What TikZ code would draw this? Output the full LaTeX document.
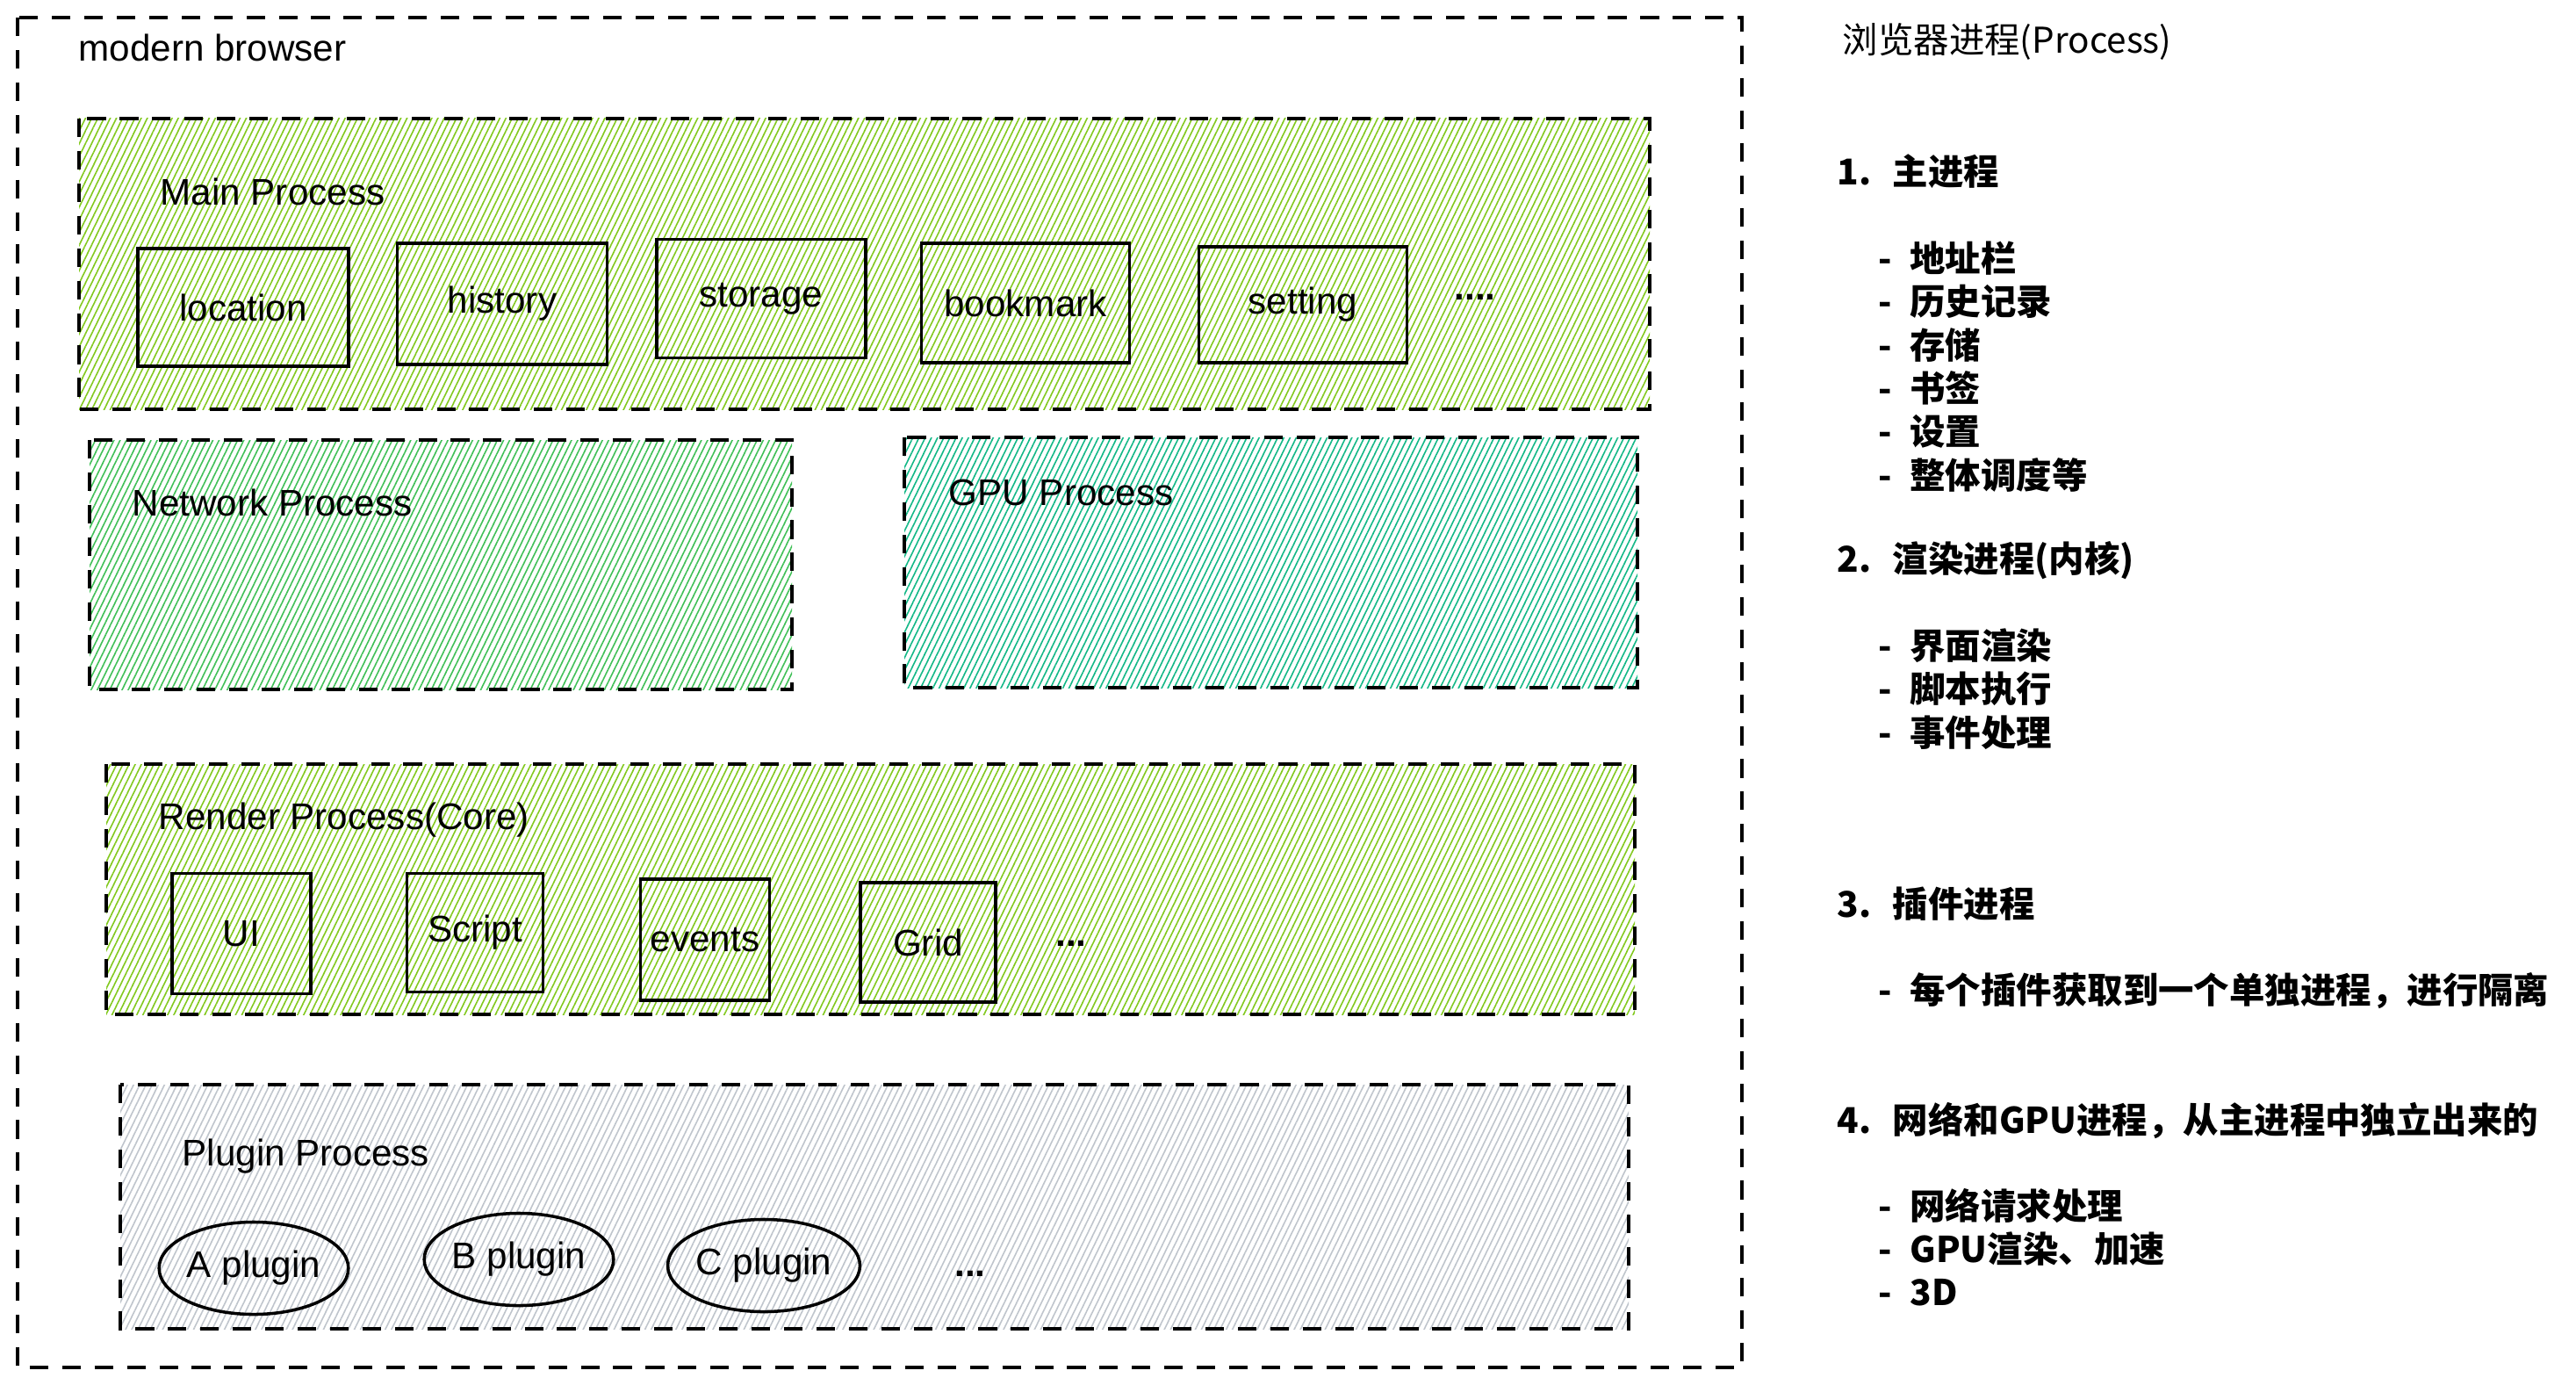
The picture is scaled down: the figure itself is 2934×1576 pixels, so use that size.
\documentclass[tikz,border=0pt]{standalone}
\usepackage{fontspec}
\setmainfont{Liberation Sans}
\newfontfamily\cjk{Noto Sans CJK SC}
\usetikzlibrary{patterns.meta,shapes.geometric}
\definecolor{limegreen}{HTML}{82C91E}
\definecolor{netgreen}{HTML}{40C057}
\definecolor{gputeal}{HTML}{12B886}
\definecolor{plugingray}{HTML}{BFC5CC}

\begin{document}
\begin{tikzpicture}[x=0.01cm,y=-0.01cm,
  font=\fontsize{12}{14}\selectfont,
  frame/.style={line width=1.1pt,dash pattern=on 6pt off 4.5pt},
  hatch/.style={pattern={Lines[angle=64,distance=1.8pt,line width=0.45pt]},pattern color=#1},
  part/.style={draw,line width=1pt,inner sep=0pt},
  plug/.style={draw,ellipse,line width=1pt,inner sep=0pt,minimum width=2.1cm,minimum height=1.05cm},
  lbl/.style={anchor=base west,inner sep=0pt},
  note/.style={anchor=west,inner sep=0pt,font=\cjk\bfseries\fontsize{11.5}{14}\selectfont}]
  \path[use as bounding box,fill=white] (0,0) rectangle (2934,1576);

  % browser frame
  \draw[frame] (20,20) rectangle (1984,1557);
  \node[lbl] (browser) at (89,70) {modern browser};

  % main process
  \draw[frame,hatch=limegreen] (90,135) rectangle (1879,466);
  \node[lbl] (mainlbl) at (182,233) {Main Process};
  \node[part,minimum width=2.40cm,minimum height=1.34cm] (location) at (277,350) {location};
  \node[part,minimum width=2.39cm,minimum height=1.38cm] (history) at (572,346) {history};
  \node[part,minimum width=2.38cm,minimum height=1.35cm] (storage) at (867,340) {storage};
  \node[part,minimum width=2.37cm,minimum height=1.36cm] (bookmark) at (1168,345) {bookmark};
  \node[part,minimum width=2.37cm,minimum height=1.32cm] (setting) at (1484,347) {setting};
  \node (maindots) at (1680,338) {\textbf{....}};

  % network and gpu
  \draw[frame,hatch=netgreen] (102,501) rectangle (902,785);
  \node[lbl] (netlbl) at (150,587) {Network Process};
  \draw[frame,hatch=gputeal] (1030,498) rectangle (1865,783);
  \node[lbl] (gpulbl) at (1080,575) {GPU Process};

  % render process
  \draw[frame,hatch=limegreen] (121,870) rectangle (1862,1155);
  \node[lbl] (renderlbl) at (180,944) {Render Process(Core)};
  \node[part,minimum width=1.58cm,minimum height=1.37cm] (ui) at (275,1063) {UI};
  \node[part,minimum width=1.55cm,minimum height=1.35cm] (script) at (541,1062) {Script};
  \node[part,minimum width=1.47cm,minimum height=1.38cm] (events) at (803,1070) {events};
  \node[part,minimum width=1.54cm,minimum height=1.36cm] (grid) at (1057,1073) {Grid};
  \node (renderdots) at (1220,1074) {\textbf{...}};

  % plugin process
  \draw[frame,hatch=plugingray] (137,1235) rectangle (1855,1513);
  \node[lbl] (pluginlbl) at (207,1327) {Plugin Process};
  \node[plug] (pluga) at (289,1444) {A plugin};
  \node[plug] (plugb) at (591,1434) {B plugin};
  \node[plug,minimum width=2.02cm] (plugc) at (870,1441) {C plugin};
  \node (plugdots) at (1105,1450) {\textbf{...}};

  % notes
  \node[note,font=\cjk\fontsize{11.5}{14}\selectfont] (title) at (2098,47) {浏览器进程(Process)};
  \node[note] (head1) at (2092,195) {1.\hspace{0.6em}主进程};
  \foreach \t [count=\i] in {地址栏,历史记录,存储,书签,设置,整体调度等}
    \node[note] (main\i) at (2139,{294+49.4*(\i-1)}) {-\enspace\t};
  \node[note] (head2) at (2092,638) {2.\hspace{0.6em}渲染进程(内核)};
  \foreach \t [count=\i] in {界面渲染,脚本执行,事件处理}
    \node[note] (render\i) at (2139,{735+49.5*(\i-1)}) {-\enspace\t};
  \node[note] (head3) at (2092,1029) {3.\hspace{0.6em}插件进程};
  \node[note] (plug1) at (2139,1128) {-\enspace 每个插件获取到一个单独进程，进行隔离};
  \node[note] (head4) at (2092,1276) {4.\hspace{0.6em}网络和GPU进程，从主进程中独立出来的};
  \foreach \t [count=\i] in {网络请求处理,GPU渲染、加速,3D}
    \node[note] (net\i) at (2139,{1373+49.5*(\i-1)}) {-\enspace\t};
\end{tikzpicture}
\end{document}
